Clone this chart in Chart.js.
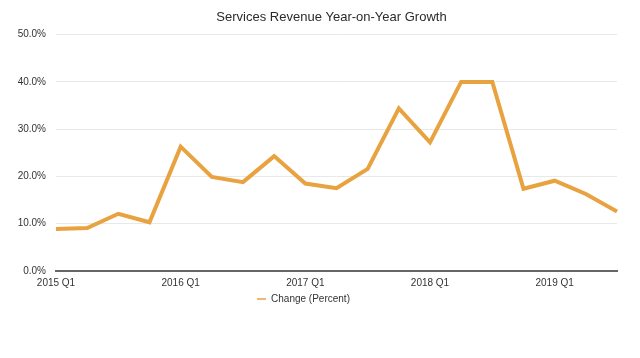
<!DOCTYPE html>
<html>
<head>
<meta charset="utf-8">
<script src="https://cdn.jsdelivr.net/npm/chart.js@4/dist/chart.umd.min.js"></script>
<style>
  html, body { margin: 0; padding: 0; background: #fff; }
  #wrap { width: 640px; height: 358px; position: relative; }
</style>
</head>
<body>
<div id="wrap"><canvas id="c"></canvas></div>
<script>
const quarters = ["2015 Q1","2015 Q2","2015 Q3","2015 Q4","2016 Q1","2016 Q2","2016 Q3","2016 Q4","2017 Q1","2017 Q2","2017 Q3","2017 Q4","2018 Q1","2018 Q2","2018 Q3","2018 Q4","2019 Q1","2019 Q2","2019 Q3"];
const changePercent = [8.9, 9.1, 12.1, 10.3, 26.3, 19.9, 18.8, 24.3, 18.5, 17.5, 21.6, 34.4, 27.2, 40.0, 40.0, 17.4, 19.1, 16.3, 12.6];
const seriesName = "Change (Percent)";
const chartTitle = "Services Revenue Year-on-Year Growth";
const yTicks = [0, 10, 20, 30, 40, 50];

const FONT = "'Liberation Sans', Arial, Helvetica, sans-serif";
const LINE = '#E8A23F';

const shiftBoxes = {
  id: 'shiftBoxes',
  afterLayout(chart) {
    if (chart.titleBlock) { chart.titleBlock.left += 16; chart.titleBlock.right += 16; }
    if (chart.legend) { chart.legend.left -= 12; chart.legend.right -= 12; }
  }
};

new Chart(document.getElementById('c'), {
  type: 'line',
  data: {
    labels: quarters,
    datasets: [{
      label: seriesName,
      data: changePercent,
      borderColor: LINE,
      backgroundColor: LINE,
      borderWidth: 4,
      tension: 0,
      pointRadius: 0,
      borderJoinStyle: 'miter',
      fill: false
    }]
  },
  plugins: [shiftBoxes],
  options: {
    responsive: true,
    maintainAspectRatio: false,
    animation: false,
    layout: { padding: { left: 14, right: 23, top: 0, bottom: 44 } },
    plugins: {
      title: {
        display: true,
        text: chartTitle,
        color: '#2b2b2b',
        font: { family: FONT, size: 13, weight: 'normal' },
        padding: { top: 10, bottom: 9 }
      },
      legend: {
        position: 'bottom',
        labels: {
          color: '#333',
          font: { family: FONT, size: 10 },
          usePointStyle: true,
          pointStyle: 'line',
          pointStyleWidth: 9,
          boxHeight: 8,
          padding: 3,
          generateLabels: (chart) => {
            const items = Chart.defaults.plugins.legend.labels.generateLabels(chart);
            items.forEach(i => { i.lineWidth = 1.5; i.strokeStyle = LINE; });
            return items;
          }
        }
      },
      tooltip: { enabled: false }
    },
    scales: {
      x: {
        afterFit: (s) => { s.height -= 4; },
        grid: { display: false, drawTicks: false },
        border: { display: true, color: '#666', width: 2 },
        ticks: {
          autoSkip: false,
          maxRotation: 0,
          padding: 6,
          color: '#333',
          font: { family: FONT, size: 10 },
          callback: function(v, i) {
            const l = this.getLabelForValue(v);
            return l.endsWith('Q1') ? l : '';
          }
        }
      },
      y: {
        min: 0,
        max: 50,
        afterFit: (s) => { s.width = 42; },
        afterBuildTicks: (s) => { s.ticks = yTicks.map(v => ({ value: v })); },
        grid: { color: '#e8e8e8', lineWidth: 1, drawTicks: false },
        border: { display: false },
        ticks: {
          padding: 10,
          color: '#333',
          font: { family: FONT, size: 10 },
          callback: (v) => v.toFixed(1) + '%'
        }
      }
    }
  }
});
</script>
</body>
</html>
